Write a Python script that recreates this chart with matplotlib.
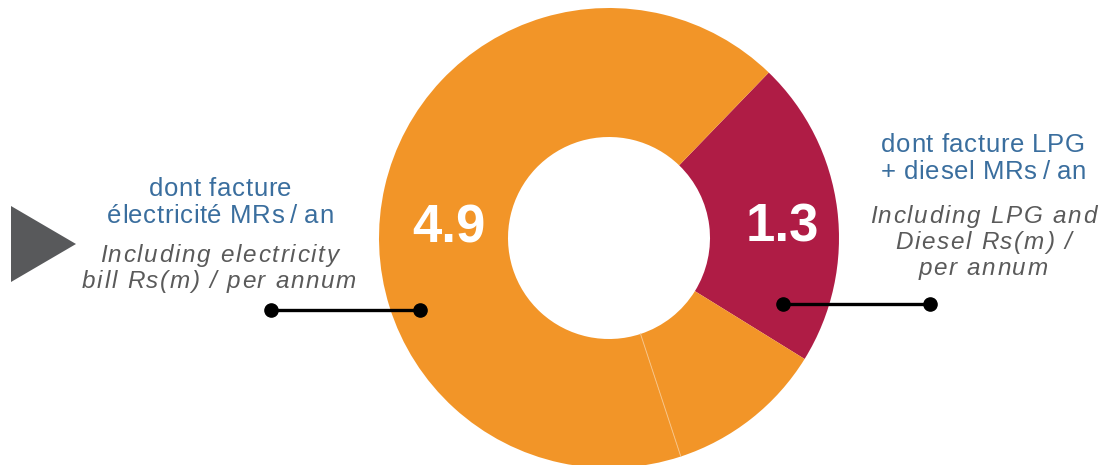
import matplotlib
matplotlib.use("Agg")
import matplotlib.pyplot as plt
from matplotlib.patches import Polygon
from matplotlib.font_manager import FontProperties, findfont
from matplotlib.ft2font import FT2Font, KERNING_DEFAULT
import numpy as np

# ---- data ----
segment_names = ["LPG + diesel", "other", "electricity"]
segment_values = [1.3, 0.67, 4.05]
segment_colors = ["#AF1C45", "#F29528", "#F29528"]
big_labels = ["4.9", "1.3"]
left_fr = ["dont facture", "électricité MRs\u2009/\u2009an"]
left_en = ["Including electricity", "bill Rs(m) / per annum"]
right_fr = ["dont facture LPG", "+ diesel MRs\u2009/\u2009an"]
right_en = ["Including LPG and", "Diesel Rs(m) /", "per annum"]

W, H = 1112, 465
DPI = 100
fig = plt.figure(figsize=(W / DPI, H / DPI), dpi=DPI)
ax = fig.add_axes([0, 0, 1, 1])

def Y(y):
    return H - y

cx, cy = 609, Y(238)
R, r_in = 230, 101
wedges, _ = ax.pie(segment_values, colors=segment_colors, startangle=46,
                   counterclock=False, center=(cx, cy), radius=R,
                   wedgeprops=dict(width=R - r_in, linewidth=0))

# faint separator between the two orange segments
th = np.deg2rad(wedges[1].theta1)
ax.plot([cx + r_in * np.cos(th), cx + R * np.cos(th)],
        [cy + r_in * np.sin(th), cy + R * np.sin(th)],
        color="#F7C283", lw=0.7, zorder=3)

ax.set_xlim(0, W)
ax.set_ylim(0, H)
ax.set_aspect("equal")
ax.axis("off")

# big value labels
ax.text(449, Y(229), big_labels[0], color="white", fontsize=38, fontweight="bold",
        family="Liberation Sans", ha="center", va="center", zorder=4)
ax.text(782, Y(228), big_labels[1], color="white", fontsize=38, fontweight="bold",
        family="Liberation Sans", ha="center", va="center", zorder=4)

# connectors
for (x0, x1, yy) in [(271, 420, 310), (783, 930, 304)]:
    ax.plot([x0, x1], [Y(yy), Y(yy)], color="black", lw=2.4, zorder=5)
    ax.plot([x0, x1], [Y(yy), Y(yy)], "o", color="black", ms=9.5, zorder=5)

# gray triangle
ax.add_patch(Polygon([[11, Y(206)], [11, Y(282)], [76, Y(244)]], closed=True,
                     color="#58595B", lw=0))


def tracked(xc, ybase, s, size, color, style="normal", track=0.0):
    fp = FontProperties(family="Liberation Sans", style=style)
    font = FT2Font(findfont(fp))
    font.set_size(size, DPI)
    advs = []
    prev = None
    for ch in s:
        g = font.load_char(ord(ch))
        a = g.linearHoriAdvance / 65536.0
        k = 0.0
        if prev is not None:
            k = font.get_kerning(font.get_char_index(ord(prev)),
                                 font.get_char_index(ord(ch)), KERNING_DEFAULT) / 64.0
        advs.append((k, a))
        prev = ch
    total = sum(k + a for k, a in advs) + track * (len(s) - 1)
    x = xc - total / 2.0
    for ch, (k, a) in zip(s, advs):
        x += k
        ax.text(x, Y(ybase), ch, color=color, fontsize=size, style=style,
                family="Liberation Sans", ha="left", va="baseline")
        x += a + track


blue = "#3A6E9E"
gray = "#5A5A5A"
for i, t in enumerate(left_fr):
    tracked(220, 196 + 27 * i, t, 18.5, blue, track=0.6)
for i, t in enumerate(left_en):
    tracked(219, 262 + 26 * i, t, 17.5, gray, style="italic", track=1.7)
for i, t in enumerate(right_fr):
    tracked(983, 152 + 27 * i, t, 18.5, blue, track=0.6)
for i, t in enumerate(right_en):
    tracked(983, 223 + 26 * i, t, 17.5, gray, style="italic", track=1.7)

fig.savefig("out.png", dpi=DPI)
